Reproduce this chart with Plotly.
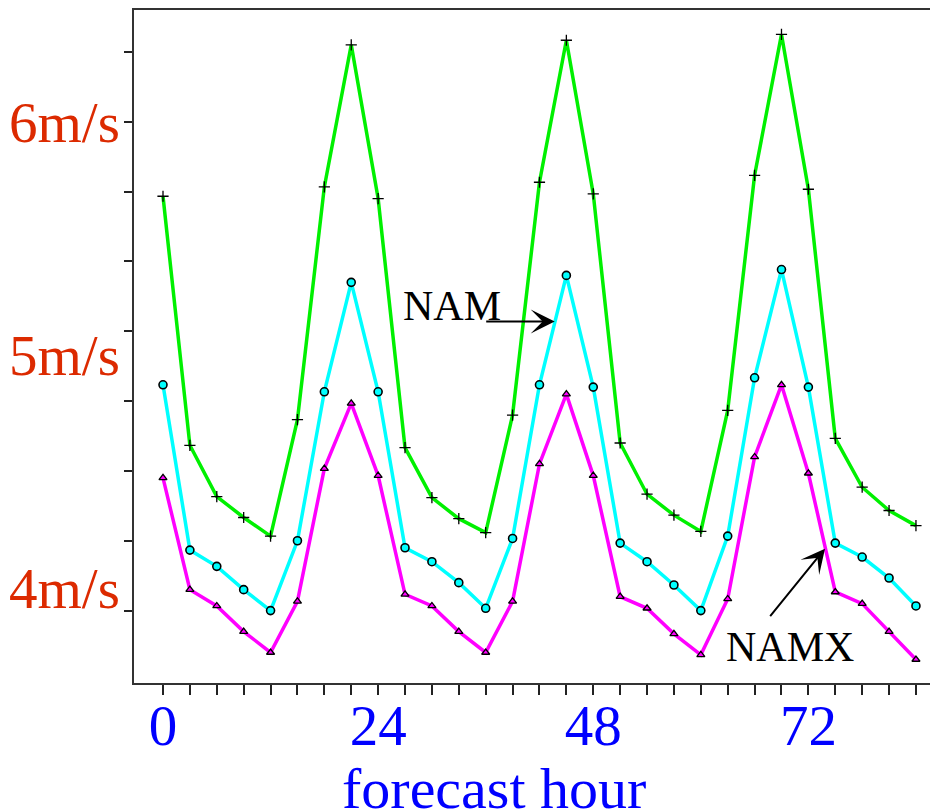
import plotly.graph_objects as go

# forecast hours (every 3 h)
hours = [0, 3, 6, 9, 12, 15, 18, 21, 24, 27, 30, 33, 36, 39, 42, 45, 48,
         51, 54, 57, 60, 63, 66, 69, 72, 75, 78, 81, 84]

# wind speed (m/s)
green_vals = [5.68, 4.61, 4.39, 4.30, 4.22, 4.72, 5.72, 6.33, 5.67, 4.60,
              4.385, 4.295, 4.235, 4.74, 5.74, 6.35, 5.69, 4.62, 4.40, 4.31,
              4.24, 4.76, 5.77, 6.375, 5.71, 4.64, 4.43, 4.33, 4.265]
nam_vals = [4.87, 4.16, 4.09, 3.99, 3.90, 4.20, 4.84, 5.31, 4.84, 4.17,
            4.11, 4.02, 3.91, 4.21, 4.87, 5.34, 4.86, 4.19, 4.11, 4.01,
            3.90, 4.22, 4.90, 5.365, 4.86, 4.19, 4.13, 4.04, 3.92]
namx_vals = [4.47, 3.99, 3.92, 3.81, 3.72, 3.94, 4.51, 4.79, 4.48, 3.97,
             3.92, 3.81, 3.72, 3.94, 4.53, 4.83, 4.48, 3.96, 3.91, 3.80,
             3.71, 3.95, 4.56, 4.87, 4.49, 3.98, 3.93, 3.81, 3.69]

x_label_hours = [0, 24, 48, 72]
y_label_vals = [6, 5, 4]
y_label_text = ["6m/s", "5m/s", "4m/s"]
y_tick_vals = [3.9, 4.2, 4.5, 4.8, 5.1, 5.4, 5.7, 6.0, 6.3]

SERIF = "Liberation Serif, Times New Roman, serif"
RED = "#dc2a00"
BLUE = "#0000ff"

fig = go.Figure()
fig.add_trace(go.Scatter(
    x=hours, y=green_vals, mode="lines+markers", name="green",
    line=dict(color="#00f000", width=3.5),
    marker=dict(symbol="cross-thin", size=8, color="black",
                line=dict(color="black", width=1.3))))
fig.add_trace(go.Scatter(
    x=hours, y=nam_vals, mode="lines+markers", name="NAM",
    line=dict(color="#00ffff", width=3.5),
    marker=dict(symbol="circle", size=8, color="#00ffff",
                line=dict(color="black", width=1.6))))
fig.add_trace(go.Scatter(
    x=hours, y=namx_vals, mode="lines+markers", name="NAMX",
    line=dict(color="#ff00ff", width=3.5),
    marker=dict(symbol="triangle-up", size=7, color="#ff00ff",
                line=dict(color="black", width=1.3))))

annotations = []
for v, t in zip(y_label_vals, y_label_text):
    annotations.append(dict(
        x=0, xref="paper", y=v, yref="y", text=t, showarrow=False,
        xanchor="right", yanchor="middle", xshift=-12, yshift=-1,
        font=dict(family=SERIF, size=57, color=RED)))

annotations.append(dict(
    x=0.448, xref="paper", y=0, yref="paper", text="forecast hour",
    showarrow=False, xanchor="center", yanchor="top", yshift=-71,
    font=dict(family=SERIF, size=58, color=BLUE)))

# NAM label and arrow
annotations.append(dict(
    x=32.2, xref="x", y=5.21, yref="y", text="NAM", showarrow=False,
    xanchor="center", yanchor="middle",
    font=dict(family=SERIF, size=42, color="black")))
annotations.append(dict(
    x=43.7, xref="x", y=5.142, yref="y", text="", showarrow=True,
    ax=-70, ay=0, arrowhead=3, arrowsize=2, arrowwidth=2,
    arrowcolor="black"))

# NAMX label and arrow
annotations.append(dict(
    x=69.95, xref="x", y=3.745, yref="y", text="NAMX", showarrow=False,
    xanchor="center", yanchor="middle",
    font=dict(family=SERIF, size=42, color="black")))
annotations.append(dict(
    x=73.85, xref="x", y=4.166, yref="y", text="", showarrow=True,
    ax=-56, ay=69, arrowhead=3, arrowsize=2, arrowwidth=2,
    arrowcolor="black"))

# page body has an 8px margin, so the figure is 8px smaller than the window
fig.update_layout(
    width=930, height=801,
    margin=dict(l=126, r=0, t=2, b=126),
    paper_bgcolor="white", plot_bgcolor="white",
    showlegend=False,
    annotations=annotations,
)

fig.update_xaxes(
    range=[-3.235, 86.46],
    tickmode="array", tickvals=hours,
    ticktext=[str(h) if h in x_label_hours else "" for h in hours],
    ticks="outside", ticklen=10, tickwidth=1.5, tickcolor="#222",
    showline=True, linecolor="#333", linewidth=2, mirror=True,
    showgrid=False, zeroline=False,
    tickfont=dict(family=SERIF, size=57, color=BLUE),
    ticklabelstandoff=-18,
)
fig.update_yaxes(
    range=[3.589, 6.480],
    tickmode="array", tickvals=y_tick_vals, showticklabels=False,
    ticks="outside", ticklen=8, tickwidth=1.5, tickcolor="#222",
    showline=True, linecolor="#333", linewidth=2,
    showgrid=False, zeroline=False,
)

fig.write_html("out.html")
